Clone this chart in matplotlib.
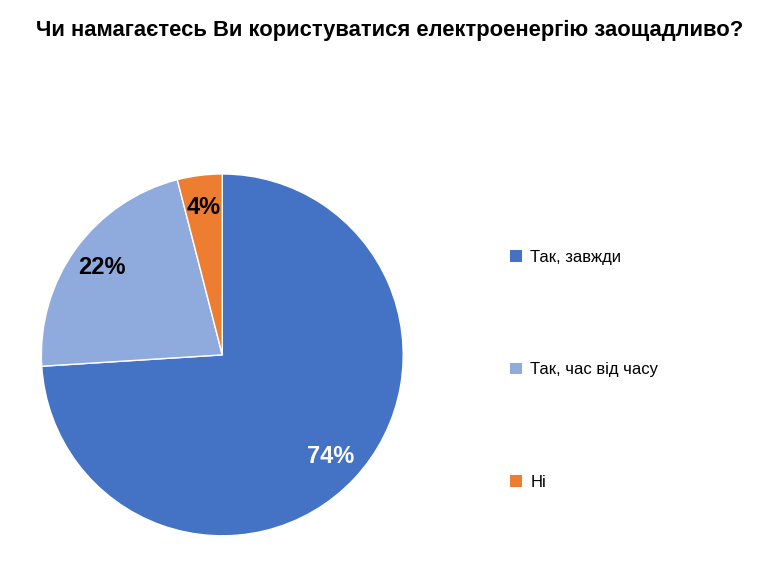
import matplotlib
matplotlib.use("Agg")
import matplotlib.pyplot as plt
from matplotlib.patches import Patch

labels = ["Так, завжди", "Так, час від часу", "Ні"]
values = [74, 22, 4]
colors = ["#4472C4", "#8FAADC", "#ED7D31"]
label_colors = ["white", "black", "black"]

plt.rcParams["font.family"] = "Liberation Sans"
fig = plt.figure(figsize=(7.8, 5.78), dpi=100)
fig.text(0.5, 0.948, "Чи намагаєтесь Ви користуватися електроенергію заощадливо?",
         ha="center", va="center", fontsize=15.8, fontweight="bold")
ax = fig.add_axes([0.285 - 0.232, 0.386 - 0.313, 0.464, 0.626])
wedges, texts, autotexts = ax.pie(values, colors=colors, startangle=90, counterclock=False,
                                  autopct="%d%%", pctdistance=0.82,
                                  wedgeprops=dict(edgecolor="white", linewidth=1))
for t, c in zip(autotexts, label_colors):
    t.set_color(c)
    t.set_fontsize(17)
    t.set_fontweight("bold")
ax.set_xlim(-1, 1)
ax.set_ylim(-1, 1)
ax.set_aspect("equal")
handles = [Patch(facecolor=c, label=l) for c, l in zip(colors, labels)]
fig.legend(handles=handles, loc="center left", bbox_to_anchor=(0.635, 0.36),
           frameon=False, fontsize=12, labelspacing=5.85, handlelength=0.7, handleheight=0.7,
           handletextpad=0.5)
fig.savefig("out.png", dpi=100)
